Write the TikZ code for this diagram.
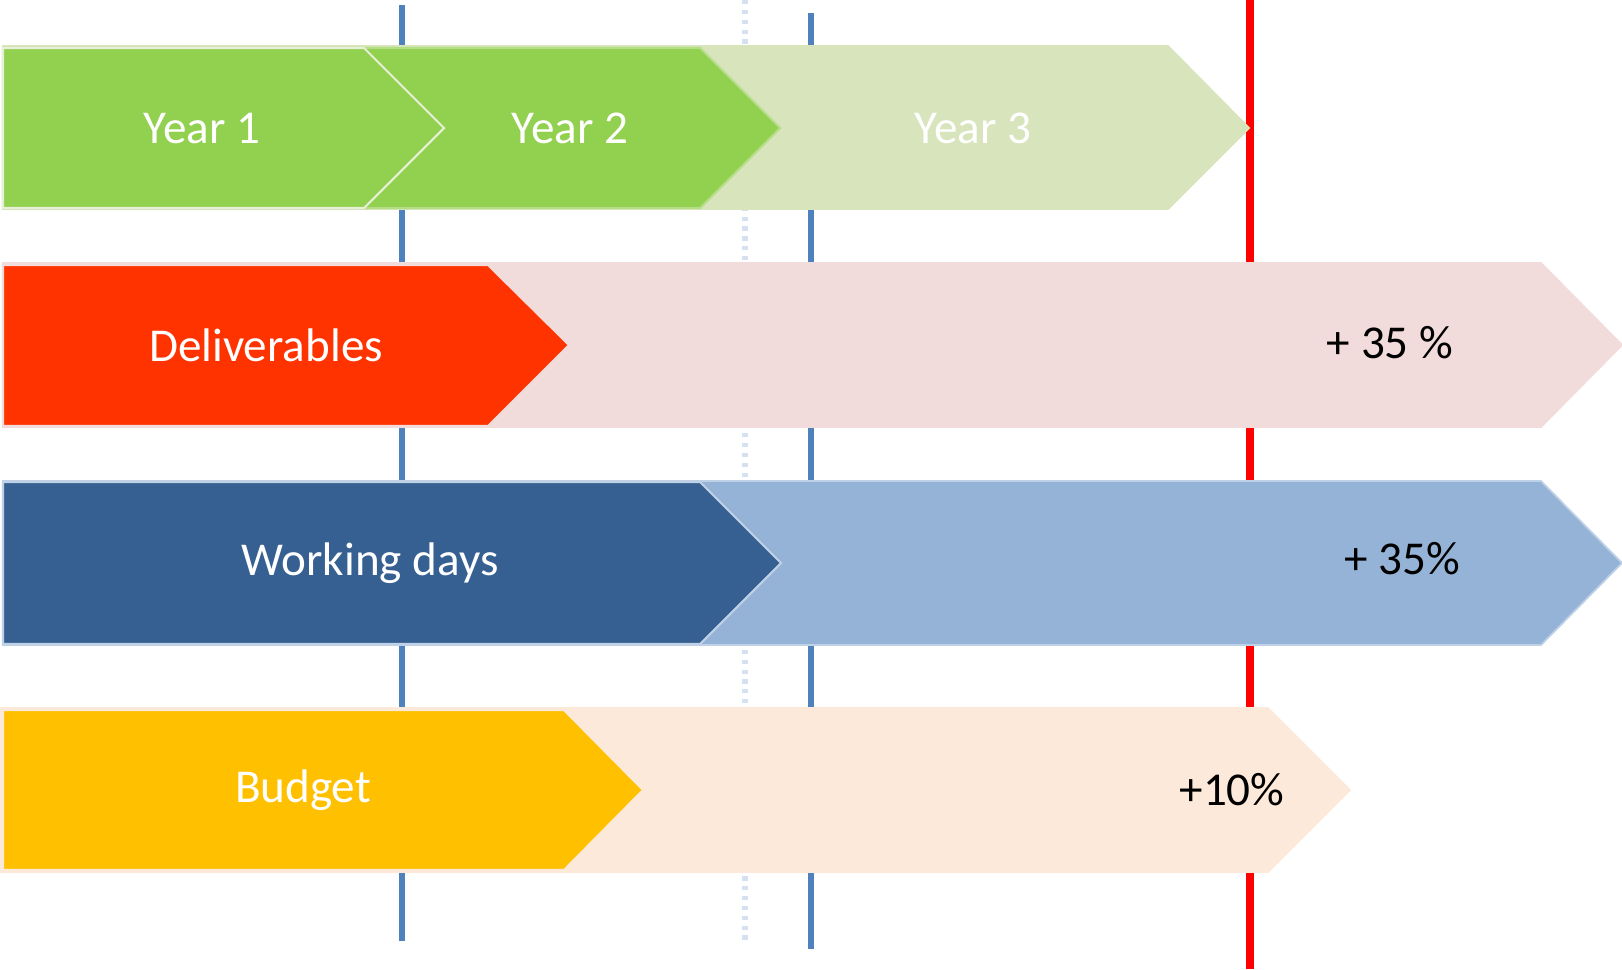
\documentclass[tikz,border=0pt]{standalone}
\usepackage{fontspec}
\setmainfont{Carlito}
\usepackage{tikz}
\usetikzlibrary{calc}
\definecolor{grn}{HTML}{92D050}
\definecolor{grnlt}{HTML}{D8E4BC}
\definecolor{dred}{HTML}{FF3300}
\definecolor{pnk}{HTML}{F2DCDB}
\definecolor{dblue}{HTML}{376092}
\definecolor{lblue}{HTML}{95B3D7}
\definecolor{ylw}{HTML}{FFC000}
\definecolor{pch}{HTML}{FDE9D9}
\definecolor{mblue}{HTML}{4F81BD}
\definecolor{dotblue}{HTML}{D5E0F0}
\tikzset{lbl/.style={font=\fontsize{13.4}{16}\selectfont,inner sep=0pt},
wlbl/.style={lbl,text=white},blbl/.style={lbl,text=black},
mark line/.style={line width=1.7pt,mblue},
back/.style={line width=0.5pt},
front/.style={line width=0.6pt}}
\begin{document}
\begin{tikzpicture}[x=0.01cm,y=-0.01cm]
\useasboundingbox (0,0) rectangle (1622,969);
% time lines
\draw[mark line] (402,5) -- (402,941);
\draw[line width=1.7pt,dotblue,dash pattern=on 1.2pt off 1.6pt] (745,0) -- (745,943);
\draw[mark line] (811,13) -- (811,949);
\draw[line width=2.1pt,red] (1250,0) -- (1250,969);
% years
\filldraw[back,fill=grnlt,draw=grnlt] (3,46) -- (1168,46) -- (1249,128) -- (1168,209) -- (3,209) -- cycle;
\filldraw[front,fill=grn,draw=grn!70!white] (3,48) -- (700,48) -- (780,128) -- (700,208) -- (3,208) -- cycle;
\filldraw[front,fill=grn,draw=grnlt!60!white] (3,48) -- (364,48) -- (444,128) -- (364,208) -- (3,208) -- cycle;
\node[wlbl] (y1) at (202,128) {Year 1};
\node[wlbl] (y2) at (570,128) {Year 2};
\node[wlbl] (y3) at (973,128) {Year 3};
% deliverables
\filldraw[back,fill=pnk,draw=pnk] (3,263) -- (1541,263) -- (1622,345) -- (1541,427) -- (3,427) -- cycle;
\filldraw[front,fill=dred,draw=pnk] (3,265) -- (488,265) -- (569,345) -- (488,426) -- (3,426) -- cycle;
\node[wlbl] (dlv) at (266,345) {Deliverables};
\node[blbl] (dlvp) at (1390,343) {+ 35 \%};
% working days
\filldraw[back,fill=lblue,draw=lblue!60!white] (3,481) -- (1541,481) -- (1622,563) -- (1541,645) -- (3,645) -- cycle;
\filldraw[front,fill=dblue,draw=lblue!60!white] (3,482) -- (700,482) -- (781,563) -- (700,644) -- (3,644) -- cycle;
\node[wlbl] (wd) at (370,563) {Working days};
\node[blbl] (wdp) at (1402,559) {+ 35\%};
% budget
\filldraw[back,fill=pch,draw=pch] (1,708) -- (1268,708) -- (1350,790) -- (1268,872) -- (1,872) -- cycle;
\filldraw[front,fill=ylw,draw=pch] (3,710) -- (564,710) -- (643,790) -- (564,870) -- (3,870) -- cycle;
\node[wlbl] (bdg) at (303,790) {Budget};
\node[blbl] (bdgp) at (1232,790) {+10\%};
\end{tikzpicture}
\end{document}
